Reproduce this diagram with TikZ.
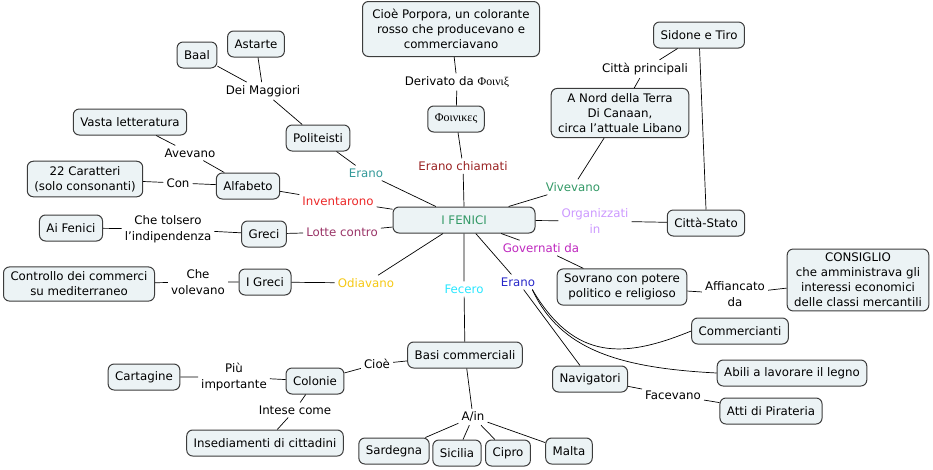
\documentclass[tikz,border=0pt]{standalone}
\usepackage{fontspec}
\setmainfont{DejaVu Sans}
\newfontfamily\greekfont{Liberation Serif}
\usepackage{tikz}

\definecolor{boxfill}{RGB}{236,243,245}
\definecolor{boxline}{RGB}{60,60,60}
\definecolor{teal1}{RGB}{51,153,153}
\definecolor{darkred1}{RGB}{153,34,34}
\definecolor{green1}{RGB}{51,153,102}
\definecolor{lavender1}{RGB}{204,153,255}
\definecolor{red1}{RGB}{235,40,40}
\definecolor{mauve1}{RGB}{153,51,102}
\definecolor{gold1}{RGB}{245,200,20}
\definecolor{cyan1}{RGB}{40,230,255}
\definecolor{blue1}{RGB}{40,40,200}
\definecolor{magenta1}{RGB}{190,40,190}

\tikzset{
  concept/.style={draw=boxline, line width=1pt, fill=boxfill, rounded corners=6pt,
    align=center, inner xsep=7pt, inner ysep=5pt, minimum height=26pt,
    font=\fontsize{11.8}{15}\selectfont},
  linkw/.style={align=center, inner sep=3pt, font=\fontsize{11.8}{15.5}\selectfont},
  conn/.style={line width=0.7pt}
}

\begin{document}
\begin{tikzpicture}[x=1pt,y=-1pt]
\useasboundingbox (0,0) rectangle (933,469);

% centro
\node[concept, text=green1, minimum width=142pt] (fenici) at (464,220) {I FENICI};

% in alto a sinistra
\node[concept] (baal) at (197,55) {Baal};
\node[concept] (astarte) at (256,44) {Astarte};
\node[linkw] (dei) at (263,91) {Dei Maggiori};
\node[concept] (politeisti) at (318,138) {Politeisti};
\node[linkw, text=teal1] (erano1) at (366,173) {Erano};

% Φοινικες
\node[concept, minimum width=177pt, minimum height=55pt] (porpora) at (451,29) {Cioè Porpora, un colorante\\rosso che producevano e\\commerciavano};
\node[linkw] (derivato) at (457,82) {Derivato da {\greekfont Φοινιξ}};
\node[concept, font=\greekfont\fontsize{12}{15}\selectfont] (phoin) at (456,119) {Φοινικες};
\node[linkw, text=darkred1] (chiamati) at (463,166) {Erano chiamati};

% in alto a destra
\node[concept] (sidone) at (699,35) {Sidone e Tiro};
\node[linkw] (citta) at (645,69) {Città principali};
\node[concept] (nord) at (620,113) {A Nord della Terra\\Di Canaan,\\circa l'attuale Libano};
\node[linkw, text=green1] (vivevano) at (573,187) {Vivevano};
\node[linkw, text=lavender1] (organiz) at (595,221) {Organizzati\\in};
\node[concept] (stato) at (706,223) {Città-Stato};

% a sinistra
\node[concept] (vasta) at (130,122) {Vasta letteratura};
\node[linkw] (avevano) at (190,153) {Avevano};
\node[concept] (caratteri) at (85,179) {22 Caratteri\\(solo consonanti)};
\node[linkw] (con) at (178,183) {Con};
\node[concept] (alfabeto) at (248,186) {Alfabeto};
\node[linkw, text=red1] (invent) at (338,201) {Inventarono};
\node[concept] (aifenici) at (71,228) {Ai Fenici};
\node[linkw] (tolsero) at (168,229) {Che tolsero\\l'indipendenza};
\node[concept] (greci) at (264,234) {Greci};
\node[linkw, text=mauve1] (lotte) at (342,232) {Lotte contro};
\node[concept] (controllo) at (79,284) {Controllo dei commerci\\su mediterraneo};
\node[linkw] (volevano) at (198,282) {Che\\volevano};
\node[concept] (igreci) at (265,282) {I Greci};
\node[linkw, text=gold1] (odiavano) at (366,283) {Odiavano};

% in basso
\node[linkw, text=cyan1] (fecero) at (464,289) {Fecero};
\node[concept] (basi) at (465,355) {Basi commerciali};
\node[linkw] (cioe) at (377,364) {Cioè};
\node[concept] (colonie) at (315,381) {Colonie};
\node[linkw] (piu) at (234,377) {Più\\importante};
\node[concept] (cartagine) at (144,377) {Cartagine};
\node[linkw] (intese) at (295,410) {Intese come};
\node[concept] (insed) at (265,443) {Insediamenti di cittadini};
\node[linkw] (ain) at (473,417) {A/in};
\node[concept] (sardegna) at (394,451) {Sardegna};
\node[concept] (sicilia) at (457,453) {Sicilia};
\node[concept] (cipro) at (508,453) {Cipro};
\node[concept] (malta) at (569,451) {Malta};

% in basso a destra
\node[linkw, text=blue1] (erano2) at (518,282) {Erano};
\node[linkw, text=magenta1] (governati) at (541,248) {Governati da};
\node[concept] (sovrano) at (622,287) {Sovrano con potere\\politico e religioso};
\node[linkw] (affiancato) at (735,294) {Affiancato\\da};
\node[concept, inner ysep=4pt] (consiglio) at (858,280) {CONSIGLIO\\che amministrava gli\\interessi economici\\delle classi mercantili};
\node[concept] (comm) at (740,331) {Commercianti};
\node[concept] (abili) at (792,373) {Abili a lavorare il legno};
\node[concept] (navig) at (590,379) {Navigatori};
\node[linkw] (facevano) at (673,395) {Facevano};
\node[concept] (atti) at (771,411) {Atti di Pirateria};

% collegamenti
\draw[conn] (fenici) -- (erano1) -- (politeisti) -- (dei) -- (baal);
\draw[conn] (dei) -- (astarte);
\draw[conn] (fenici.north) -- (chiamati) -- (phoin) -- (derivato) -- (porpora);
\draw[conn] (fenici) -- (vivevano) -- (nord) -- (citta) -- (sidone);
\draw[conn] (stato.north) -- (sidone);
\draw[conn] (fenici) -- (organiz) -- (stato);
\draw[conn] (fenici) -- (invent) -- (alfabeto) -- (avevano) -- (vasta);
\draw[conn] (alfabeto) -- (con) -- (caratteri);
\draw[conn] (fenici) -- (lotte) -- (greci) -- (tolsero) -- (aifenici);
\draw[conn] (fenici) -- (odiavano) -- (igreci) -- (volevano) -- (controllo);
\draw[conn] (fenici.south) -- (fecero) -- (basi) -- (cioe) -- (colonie) -- (piu) -- (cartagine);
\draw[conn] (colonie) -- (intese) -- (insed);
\draw[conn] (basi) -- (ain);
\foreach \t in {sardegna,sicilia,cipro,malta}
  \draw[conn] (ain) -- (\t);
\draw[conn] (fenici) -- (governati) -- (sovrano) -- (affiancato) -- (consiglio);
\draw[conn] (fenici) -- (erano2) -- (navig) -- (facevano) -- (atti);
\draw[conn] ([xshift=-6pt]erano2.south east) .. controls (575,362) and (625,358) .. (comm.west);
\draw[conn] ([xshift=-6pt]erano2.south east) .. controls (560,350) and (620,368) .. (abili.west);
\end{tikzpicture}
\end{document}
